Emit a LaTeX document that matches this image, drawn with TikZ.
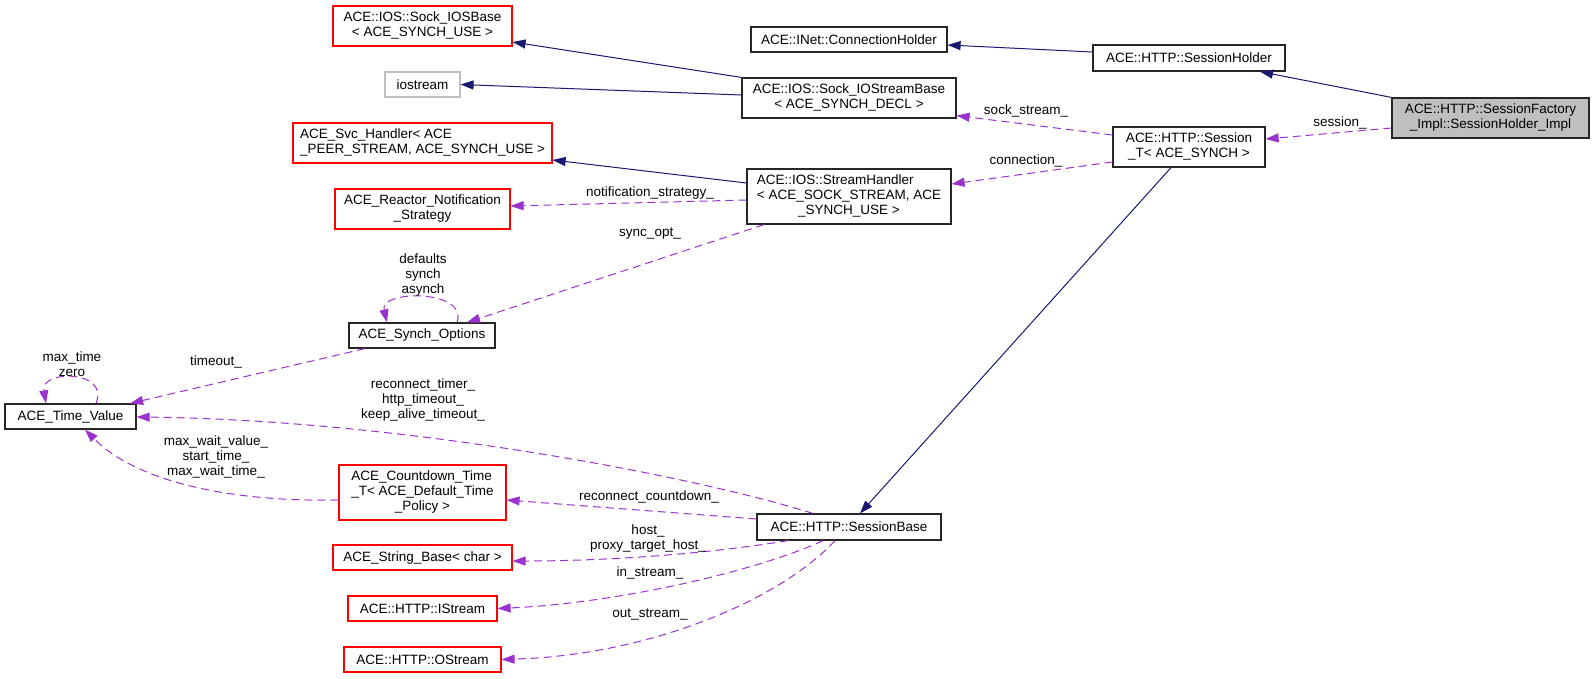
\documentclass[tikz,border=0pt]{standalone}
\usepackage{fontspec}
\setmainfont{Liberation Sans}
\usetikzlibrary{arrows.meta}
\definecolor{navyc}{HTML}{191970}
\definecolor{usecol}{HTML}{9A32CD}
\definecolor{boxgray}{HTML}{BFBFBF}
\newcommand\dxlab[2]{\begin{tabular}{@{}l@{}}#1\\\multicolumn{1}{@{}c@{}}{#2}\end{tabular}}
\begin{document}
\begin{tikzpicture}[x=1pt,y=-1pt,
  every node/.style={font=\fontsize{13.5}{15}\selectfont, inner sep=0pt},
  cls/.style={draw=black!85, line width=1.2pt, fill=white},
  redcls/.style={draw=red, line width=1.2pt, fill=white},
  graycls/.style={draw=boxgray, line width=1.2pt, fill=white},
  focus/.style={draw=black!85, line width=1.2pt, fill=boxgray},
  lbl/.style={align=center},
  inh/.style={draw=navyc, line width=1pt, -{Triangle[length=13pt,width=9pt]}},
  dep/.style={draw=usecol, line width=1pt, dash pattern=on 8pt off 5pt, -{Triangle[length=13pt,width=9pt]}}]
\useasboundingbox (0,0) rectangle (1595,678);
\fill[white] (0,0) rectangle (1595,678);

% left column
\node[redcls, minimum width=179pt, minimum height=40pt] (iosbase) at (422.5,26) {\dxlab{ACE::IOS::Sock\_IOSBase}{< ACE\_SYNCH\_USE >}};
\node[graycls, minimum width=75pt, minimum height=25pt] (iostream) at (422.5,84.5) {iostream};
\node[redcls, minimum width=259pt, minimum height=40pt] (svc) at (422.5,143) {\dxlab{ACE\_Svc\_Handler< ACE}{\_PEER\_STREAM, ACE\_SYNCH\_USE >}};
\node[redcls, minimum width=175pt, minimum height=40pt] (reactor) at (422.5,209) {\dxlab{ACE\_Reactor\_Notification}{\_Strategy}};
\node[cls, minimum width=146pt, minimum height=25pt] (synch) at (422,335.5) {ACE\_Synch\_Options};
\node[cls, minimum width=131pt, minimum height=25pt] (timevalue) at (70.5,416.5) {ACE\_Time\_Value};
\node[redcls, minimum width=167pt, minimum height=55pt] (countdown) at (422.5,492.5) {\dxlab{ACE\_Countdown\_Time\\\_T< ACE\_Default\_Time}{\_Policy >}};
\node[redcls, minimum width=179pt, minimum height=25pt] (stringbase) at (422.5,557.5) {ACE\_String\_Base< char >};
\node[redcls, minimum width=149pt, minimum height=25pt] (istream) at (422.5,608.5) {ACE::HTTP::IStream};
\node[redcls, minimum width=157pt, minimum height=25pt] (ostream) at (422.5,659.5) {ACE::HTTP::OStream};

% middle column
\node[cls, minimum width=196pt, minimum height=25pt] (connholder) at (849,39.5) {ACE::INet::ConnectionHolder};
\node[cls, minimum width=214pt, minimum height=40pt] (iostreambase) at (849,98) {\dxlab{ACE::IOS::Sock\_IOStreamBase}{< ACE\_SYNCH\_DECL >}};
\node[cls, minimum width=204pt, minimum height=55pt] (streamhandler) at (849,196.5) {\dxlab{ACE::IOS::StreamHandler\\< ACE\_SOCK\_STREAM, ACE}{\_SYNCH\_USE >}};
\node[cls, minimum width=184pt, minimum height=26pt] (sessionbase) at (849,527) {ACE::HTTP::SessionBase};

% right columns
\node[cls, minimum width=192pt, minimum height=26pt] (sessionholder) at (1189,58) {ACE::HTTP::SessionHolder};
\node[cls, minimum width=152pt, minimum height=40pt] (sessiont) at (1189,147) {\dxlab{ACE::HTTP::Session}{\_T< ACE\_SYNCH >}};
\node[focus, minimum width=197pt, minimum height=40pt] (factory) at (1490.5,118) {\dxlab{ACE::HTTP::SessionFactory}{\_Impl::SessionHolder\_Impl}};

% inheritance
\draw[inh] (iostreambase.north west) -- ([yshift=-16pt]iosbase.east);
\draw[inh] ([yshift=3pt]iostreambase.west) -- (iostream.east);
\draw[inh] ([yshift=13.5pt]streamhandler.west) -- ([yshift=-17pt]svc.east);
\draw[inh] ([yshift=6pt]sessionholder.west) -- ([yshift=-5.5pt]connholder.east);
\draw[inh] (factory.north west) -- ([xshift=71pt]sessionholder.south);
\draw[inh] ([xshift=-18pt]sessiont.south) -- ([xshift=11pt]sessionbase.north);

% usage
\draw[dep] ([yshift=-10pt]factory.west) -- ([yshift=8pt]sessiont.east);
\draw[dep] ([yshift=12pt]sessiont.west) -- ([yshift=3pt]iostreambase.south east);
\draw[dep] ([yshift=-15pt]sessiont.west) -- ([yshift=12.5pt]streamhandler.east);
\draw[dep] ([yshift=-3.5pt]streamhandler.west) -- ([yshift=3pt]reactor.east);
\draw[dep] ([xshift=-85pt]streamhandler.south) -- ([xshift=45pt]synch.north);
\draw[dep] ([xshift=35pt]synch.north) .. controls +(12,-33) and +(-8,-33) .. ([xshift=-35pt]synch.north);
\draw[dep] ([xshift=-57pt]synch.south) -- ([xshift=-6.5pt]timevalue.north east);
\draw[dep] ([xshift=25.5pt]timevalue.north) .. controls +(14,-34) and +(-6,-34) .. ([xshift=-24.5pt]timevalue.north);
\draw[dep] ([xshift=-36pt]sessionbase.north) .. controls (690,475) and (400,420) .. ([yshift=-0.5pt]timevalue.east);
\draw[dep] ([yshift=8pt]sessionbase.west) -- ([yshift=-7.5pt]countdown.east);
\draw[dep] ([yshift=-7.5pt]countdown.west) .. controls (240,502) and (140,485) .. ([xshift=14.5pt]timevalue.south);
\draw[dep] ([xshift=-61pt]sessionbase.south) .. controls (700,555) and (600,561) .. ([yshift=-3.5pt]stringbase.east);
\draw[dep] ([xshift=-26pt]sessionbase.south) .. controls (760,570) and (620,603) .. (istream.east);
\draw[dep] ([xshift=-14pt]sessionbase.south) .. controls (780,600) and (650,655) .. (ostream.east);

% labels
\node[lbl] (lsession) at (1340,123) {session\_};
\node[lbl] (lsock) at (1026,111) {sock\_stream\_};
\node[lbl] (lconn) at (1026,161) {connection\_};
\node[lbl] (lnotif) at (650,193) {notification\_strategy\_};
\node[lbl] (lsyncopt) at (650,234) {sync\_opt\_};
\node[lbl] (ldefaults) at (423,275.5) {defaults\\synch\\asynch};
\node[lbl] (ltimeout) at (216,362) {timeout\_};
\node[lbl] (lmaxtime) at (72,364) {max\_time\\zero};
\node[lbl] (lreconn) at (423,400.5) {reconnect\_timer\_\\http\_timeout\_\\keep\_alive\_timeout\_};
\node[lbl] (lmaxwait) at (216,456.5) {max\_wait\_value\_\\start\_time\_\\max\_wait\_time\_};
\node[lbl] (lrcd) at (649,497) {reconnect\_countdown\_};
\node[lbl] (lhost) at (648,538.5) {host\_\\proxy\_target\_host\_};
\node[lbl] (lin) at (650,573) {in\_stream\_};
\node[lbl] (lout) at (650,614) {out\_stream\_};
\end{tikzpicture}
\end{document}
